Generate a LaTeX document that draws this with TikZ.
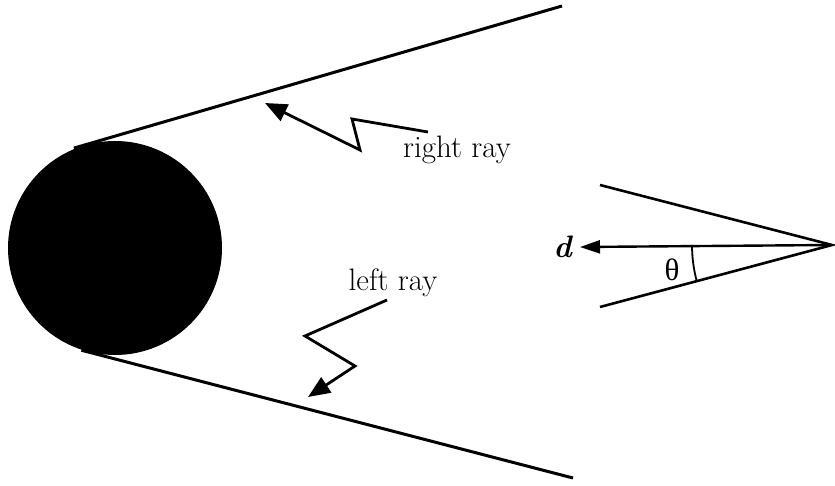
\documentclass[tikz,border=0pt]{standalone}
\usepackage{fontspec}
\newfontfamily\greekfont{Liberation Serif}
\usetikzlibrary{arrows.meta}
\tikzset{
  ray/.style={line width=1.5pt},
  zigarrow/.style={line width=1.4pt, -{Triangle[length=11pt,width=9pt]}},
  dirarrow/.style={line width=1.2pt, -{Triangle[length=10pt,width=6.5pt]}},
  lbl/.style={font=\fontsize{15.5}{18}\selectfont}
}
\begin{document}
\begin{tikzpicture}[x=0.5pt, y=-0.5pt]
        \useasboundingbox (0,0) rectangle (835,486);

        % Obstacle
        \node[circle, fill=black, minimum size=107pt, inner sep=0pt] (ball) at (115,248) {};

        % Tangent rays
        \coordinate (rtopend) at (562,6);
        \coordinate (rbotend) at (573,478);
        \draw[ray, shorten <=-6pt] (ball.106) -- (rtopend);
        \draw[ray, shorten <=-3pt] (ball.255) -- (rbotend);

        % Labels with zigzag pointers
        \node[lbl] (rightlbl) at (457,150) {right ray};
        \coordinate (rr0) at (428,132);
        \coordinate (rr1) at (352,119);
        \coordinate (rr2) at (360,150);
        \coordinate (rrtip) at (265,103);
        \draw[zigarrow] (rr0) -- (rr1) -- (rr2) -- (rrtip);

        \node[lbl] (leftlbl) at (393,283) {left ray};
        \coordinate (lr0) at (387,300);
        \coordinate (lr1) at (305,336);
        \coordinate (lr2) at (355,366);
        \coordinate (lrtip) at (308,397);
        \draw[zigarrow] (lr0) -- (lr1) -- (lr2) -- (lrtip);

        % Direction wedge
        \coordinate (apex) at (832,245);
        \coordinate (wup) at (600,185);
        \coordinate (wlow) at (600,307);
        \draw[ray, line width=1.3pt] (wup) -- (apex) -- (wlow);
        \node[lbl, anchor=east] (dlbl) at (580,247) {\textbf{\textit{d}}};
        \draw[dirarrow] (apex) -- (dlbl.east);
        \draw[line width=0.9pt] (apex) ++(-140,0) arc[start angle=180, end angle=164.8, radius=140];
        \node[lbl] (thetalbl) at (672,270) {\greekfont θ};
\end{tikzpicture}
\end{document}
